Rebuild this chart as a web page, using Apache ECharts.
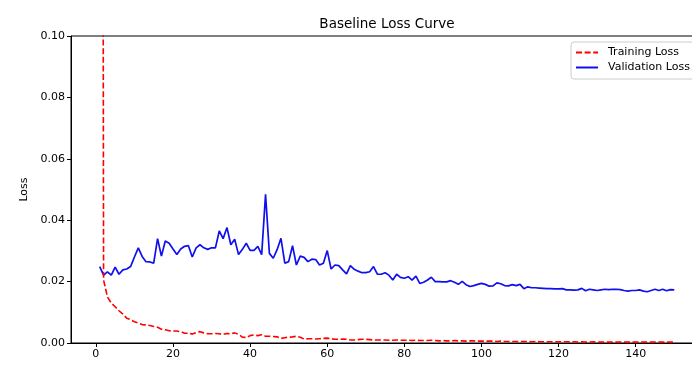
<!DOCTYPE html>
<html>
<head>
<meta charset="utf-8">
<script src="https://cdn.jsdelivr.net/npm/echarts@6/dist/echarts.min.js"></script>
<style>
  html, body { margin: 0; padding: 0; background: #fff; }
  #main { width: 692px; height: 365px; }
</style>
</head>
<body>
<div id="main"></div>
<script>
// values, one per epoch (1..150)
var trainLoss = [
  0.9, 0.0205, 0.0150, 0.0130, 0.0118, 0.0105, 0.0094, 0.0081, 0.0076, 0.0069,
  0.0065, 0.0060, 0.0059, 0.0057, 0.0054, 0.0051, 0.0045, 0.0043, 0.0040, 0.0039,
  0.0039, 0.0037, 0.0032, 0.0032, 0.0029, 0.0034, 0.0037, 0.0033, 0.0030, 0.0030,
  0.0031, 0.0030, 0.0028, 0.0031, 0.0030, 0.0033, 0.0028, 0.0019, 0.0018, 0.0024,
  0.0026, 0.0024, 0.0027, 0.0022, 0.0022, 0.0021, 0.0020, 0.0015, 0.0017, 0.0019,
  0.0020, 0.0022, 0.0019, 0.0013, 0.0014, 0.0014, 0.0013, 0.0014, 0.0015, 0.0016,
  0.0014, 0.0012, 0.0012, 0.0013, 0.0012, 0.0010, 0.0010, 0.0011, 0.0012, 0.0012,
  0.0011, 0.0010, 0.0010, 0.0010, 0.0010, 0.0009, 0.0009, 0.0010, 0.0009, 0.0009,
  0.0009, 0.0008, 0.0009, 0.0008, 0.0008, 0.0008, 0.0009, 0.0008, 0.0007, 0.0008,
  0.0007, 0.0007, 0.0008, 0.0007, 0.0007, 0.0006, 0.0007, 0.0007, 0.0006, 0.0006,
  0.0006, 0.0006, 0.0006, 0.0005, 0.0006, 0.0005, 0.0005, 0.0005, 0.0005, 0.0005,
  0.0005, 0.0005, 0.0004, 0.0005, 0.0004, 0.0004, 0.0004, 0.0004, 0.0004, 0.0004,
  0.0004, 0.0004, 0.0004, 0.0004, 0.0003, 0.0004, 0.0003, 0.0003, 0.0004, 0.0003,
  0.0003, 0.0003, 0.0003, 0.0003, 0.0003, 0.0003, 0.0003, 0.0003, 0.0003, 0.0003,
  0.0003, 0.0003, 0.0003, 0.0003, 0.0003, 0.0003, 0.0003, 0.0003, 0.0003, 0.0003
];
var validLoss = [
  0.0249, 0.0221, 0.0232, 0.0221, 0.0247, 0.0224, 0.0238, 0.0241, 0.0249, 0.0280,
  0.0310, 0.0282, 0.0265, 0.0264, 0.0260, 0.0340, 0.0283, 0.0332, 0.0325, 0.0306,
  0.0288, 0.0306, 0.0315, 0.0317, 0.0280, 0.0310, 0.0320, 0.0310, 0.0305, 0.0310,
  0.0310, 0.0365, 0.0340, 0.0376, 0.0320, 0.0338, 0.0288, 0.0305, 0.0325, 0.0302,
  0.0302, 0.0315, 0.0288, 0.0484, 0.0292, 0.0276, 0.0304, 0.0341, 0.0260, 0.0265,
  0.0317, 0.0254, 0.0283, 0.0279, 0.0265, 0.0273, 0.0272, 0.0254, 0.0260, 0.0301,
  0.0241, 0.0254, 0.0252, 0.0238, 0.0225, 0.0252, 0.0240, 0.0234, 0.0229, 0.0229,
  0.0232, 0.0249, 0.0224, 0.0224, 0.0229, 0.0221, 0.0205, 0.0224, 0.0214, 0.0211,
  0.0216, 0.0205, 0.0218, 0.0194, 0.0198, 0.0205, 0.0214, 0.0200, 0.0200, 0.0199,
  0.0199, 0.0203, 0.0198, 0.0191, 0.0201, 0.0190, 0.0184, 0.0187, 0.0191, 0.0194,
  0.0191, 0.0185, 0.0186, 0.0196, 0.0193, 0.0187, 0.0186, 0.0190, 0.0187, 0.0191,
  0.0177, 0.0183, 0.0180, 0.0180, 0.0179, 0.0178, 0.0177, 0.0177, 0.0176, 0.0176,
  0.0177, 0.0173, 0.0173, 0.0172, 0.0173, 0.0178, 0.0170, 0.0175, 0.0173, 0.0171,
  0.0173, 0.0175, 0.0174, 0.0175, 0.0175, 0.0174, 0.0171, 0.0169, 0.0171, 0.0171,
  0.0173, 0.0169, 0.0167, 0.0171, 0.0175, 0.0171, 0.0175, 0.0170, 0.0174, 0.0173
];
var xTicks = [0, 20, 40, 60, 80, 100, 120, 140];

var FONT = 'DejaVu Sans';

// [epoch, value] pairs
function toPairs(arr) {
  return arr.map(function (v, i) { return [i + 1, v]; });
}

var chart = echarts.init(document.getElementById('main'));
chart.setOption({
  animation: false,
  title: {
    text: 'Baseline Loss Curve',
    left: 382,
    textAlign: 'center',
    top: 12,
    textStyle: { fontFamily: FONT, fontSize: 13.5, fontWeight: 'normal', color: '#000' }
  },
  legend: {
    orient: 'vertical',
    left: 571,
    top: 42,
    padding: [5, 8, 6, 4],
    itemWidth: 22,
    itemHeight: 10,
    itemGap: 4,
    backgroundColor: '#fff',
    borderColor: '#cccccc',
    borderWidth: 1,
    borderRadius: 3,
    itemStyle: { opacity: 0 },
    textStyle: { fontFamily: FONT, fontSize: 11, color: '#000', padding: [0, 0, 0, 5] },
    data: ['Training Loss', 'Validation Loss']
  },
  grid: {
    left: 71,
    top: 36,
    right: -11,
    bottom: 22,
    containLabel: false,
    outerBoundsMode: 'none',
    show: true,
    borderColor: '#000',
    borderWidth: 1,
    backgroundColor: 'transparent'
  },
  xAxis: {
    type: 'value',
    min: -6.45,
    max: 157.45,
    splitLine: { show: false },
    axisLine: { onZero: false, lineStyle: { color: '#000', width: 1 } },
    axisTick: { show: true, length: 4, lineStyle: { color: '#000' }, customValues: xTicks },
    axisLabel: {
      customValues: xTicks,
      fontFamily: FONT, fontSize: 11, color: '#000', margin: 6
    }
  },
  yAxis: {
    type: 'value',
    min: 0,
    max: 0.1,
    interval: 0.02,
    name: 'Loss',
    nameLocation: 'middle',
    nameGap: 36,
    nameTextStyle: { fontFamily: FONT, fontSize: 11, color: '#000' },
    splitLine: { show: false },
    axisLine: { show: true, onZero: false, lineStyle: { color: '#000', width: 1 } },
    axisTick: { show: true, length: 4, lineStyle: { color: '#000' } },
    axisLabel: {
      fontFamily: FONT, fontSize: 11, color: '#000', margin: 6,
      formatter: function (v) { return v.toFixed(2); }
    }
  },
  series: [
    {
      name: 'Training Loss',
      type: 'line',
      data: toPairs(trainLoss),
      symbol: 'none',
      clip: true,
      color: '#ff0000',
      lineStyle: { color: '#ff0000', width: 1.6, type: [6, 2.6] },
      z: 3
    },
    {
      name: 'Validation Loss',
      type: 'line',
      data: toPairs(validLoss),
      symbol: 'none',
      clip: true,
      color: '#0000ff',
      lineStyle: { color: '#1010ee', width: 1.7 },
      z: 2
    }
  ]
});
</script>
</body>
</html>
